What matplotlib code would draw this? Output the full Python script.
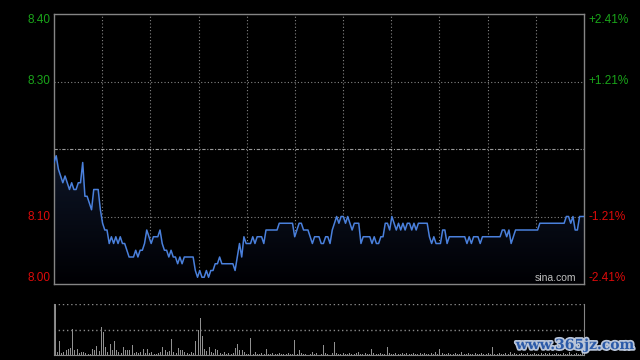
# Grafico intradia de precio y volumen (estilo sina)
import numpy as np
import matplotlib
matplotlib.use('Agg')
import matplotlib.pyplot as plt
import matplotlib.patheffects as pe
from matplotlib.colors import LinearSegmentedColormap

# Precio por minuto (241 puntos)
precios = [
    8.18, 8.19, 8.17, 8.16, 8.15, 8.16, 8.15, 8.14, 8.15, 8.14,
    8.14, 8.15, 8.15, 8.18, 8.13, 8.13, 8.12, 8.11, 8.14, 8.14,
    8.14, 8.11, 8.09, 8.08, 8.08, 8.06, 8.07, 8.06, 8.07, 8.06,
    8.07, 8.06, 8.06, 8.05, 8.04, 8.04, 8.04, 8.05, 8.04, 8.05,
    8.05, 8.06, 8.08, 8.07, 8.06, 8.07, 8.07, 8.07, 8.08, 8.06,
    8.05, 8.05, 8.04, 8.05, 8.04, 8.04, 8.03, 8.04, 8.03, 8.04,
    8.04, 8.04, 8.04, 8.04, 8.02, 8.01, 8.02, 8.01, 8.01, 8.02,
    8.01, 8.02, 8.02, 8.03, 8.03, 8.04, 8.03, 8.03, 8.03, 8.03,
    8.03, 8.03, 8.02, 8.04, 8.06, 8.04, 8.07, 8.06, 8.06, 8.06,
    8.07, 8.06, 8.07, 8.07, 8.07, 8.06, 8.08, 8.08, 8.08, 8.08,
    8.08, 8.08, 8.09, 8.09, 8.09, 8.09, 8.09, 8.09, 8.09, 8.07,
    8.08, 8.09, 8.09, 8.08, 8.08, 8.08, 8.07, 8.06, 8.07, 8.07,
    8.07, 8.06, 8.06, 8.07, 8.07, 8.06, 8.08, 8.09, 8.10, 8.09,
    8.10, 8.10, 8.09, 8.10, 8.09, 8.08, 8.09, 8.09, 8.09, 8.06,
    8.07, 8.07, 8.07, 8.07, 8.06, 8.07, 8.06, 8.06, 8.07, 8.07,
    8.09, 8.09, 8.08, 8.10, 8.09, 8.08, 8.09, 8.08, 8.09, 8.08,
    8.09, 8.09, 8.08, 8.09, 8.08, 8.09, 8.09, 8.09, 8.09, 8.09,
    8.07, 8.06, 8.07, 8.06, 8.06, 8.06, 8.08, 8.08, 8.06, 8.07,
    8.07, 8.07, 8.07, 8.07, 8.07, 8.07, 8.07, 8.06, 8.07, 8.06,
    8.07, 8.07, 8.07, 8.06, 8.07, 8.07, 8.07, 8.07, 8.07, 8.07,
    8.07, 8.07, 8.07, 8.08, 8.08, 8.07, 8.08, 8.06, 8.07, 8.08,
    8.08, 8.08, 8.08, 8.08, 8.08, 8.08, 8.08, 8.08, 8.08, 8.08,
    8.09, 8.09, 8.09, 8.09, 8.09, 8.09, 8.09, 8.09, 8.09, 8.09,
    8.09, 8.09, 8.10, 8.10, 8.09, 8.10, 8.08, 8.08, 8.10, 8.10,
    8.10,
]

# Volumen por minuto (la linea de 2.0 es el tope del panel)
volumen = [
    3.0, 0.1, 0.53, 0.08, 0.1, 0.2, 0.22, 0.29, 1.03, 0.2,
    0.24, 0.08, 0.1, 0.1, 0.06, 0.05, 0.05, 0.24, 0.2, 0.36,
    0.17, 1.08, 0.91, 0.33, 0.13, 0.43, 0.2, 0.55, 0.2, 0.12,
    0.08, 0.33, 0.2, 0.2, 0.2, 0.39, 0.08, 0.1, 0.06, 0.1,
    0.22, 0.06, 0.25, 0.08, 0.12, 0.05, 0.04, 0.06, 0.12, 0.33,
    0.2, 0.13, 0.16, 0.63, 0.12, 0.06, 0.28, 0.2, 0.2, 0.12,
    0.08, 0.05, 0.12, 0.06, 0.55, 0.99, 1.47, 0.75, 0.24, 0.17,
    0.33, 0.12, 0.06, 0.22, 0.2, 0.08, 0.05, 0.12, 0.04, 0.07,
    0.05, 0.06, 0.28, 0.43, 0.2, 0.2, 0.12, 0.05, 0.04, 0.68,
    0.05, 0.12, 0.04, 0.05, 0.06, 0.04, 0.24, 0.05, 0.04, 0.06,
    0.05, 0.04, 0.06, 0.05, 0.04, 0.05, 0.06, 0.04, 0.05, 0.59,
    0.05, 0.2, 0.06, 0.04, 0.05, 0.06, 0.04, 0.1, 0.05, 0.06,
    0.05, 0.04, 0.39, 0.06, 0.05, 0.06, 0.08, 0.5, 0.06, 0.05,
    0.04, 0.06, 0.05, 0.04, 0.06, 0.05, 0.04, 0.06, 0.12, 0.05,
    0.04, 0.06, 0.05, 0.04, 0.22, 0.06, 0.05, 0.04, 0.06, 0.05,
    0.04, 0.3, 0.06, 0.05, 0.04, 0.06, 0.05, 0.04, 0.06, 0.05,
    0.06, 0.04, 0.05, 0.08, 0.04, 0.05, 0.06, 0.04, 0.08, 0.05,
    0.04, 0.06, 0.05, 0.1, 0.04, 0.22, 0.06, 0.05, 0.04, 0.06,
    0.05, 0.04, 0.06, 0.05, 0.04, 0.12, 0.05, 0.04, 0.06, 0.05,
    0.04, 0.06, 0.05, 0.04, 0.06, 0.05, 0.04, 0.06, 0.05, 0.3,
    0.05, 0.04, 0.06, 0.05, 0.04, 0.06, 0.05, 0.12, 0.04, 0.06,
    0.05, 0.04, 0.06, 0.05, 0.04, 0.06, 0.05, 0.04, 0.06, 0.05,
    0.04, 0.06, 0.05, 0.08, 0.04, 0.06, 0.05, 0.04, 0.06, 0.05,
    0.04, 0.06, 0.05, 0.04, 0.1, 0.05, 0.04, 0.06, 0.05, 0.04,
    0.08,
]

cierre_anterior = 8.20
valores_eje = [8.40, 8.30, 8.10, 8.00]
etiquetas_izq = ['8.40', '8.30', '8.10', '8.00']
etiquetas_der = ['+2.41%', '+1.21%', '-1.21%', '-2.41%']

verde = '#1aa51a'
rojo = '#dd0a0a'
gris = '#858585'
azul = '#4a80dc'
fuente = 'Liberation Sans'

fig = plt.figure(figsize=(6.4, 3.6), dpi=100, facecolor='black')

# Panel de precio
ax = fig.add_axes([54/640, 76/360, 530/640, 270/360])
ax.set_facecolor('black')
x = np.arange(len(precios))
ax.set_xticks([])
ax.set_yticks([])
for s in ax.spines.values():
    s.set_color(gris)
    s.set_linewidth(1)

# Rejilla punteada
for xv in np.linspace(0, len(precios) - 1, 12)[1:-1]:
    ax.axvline(xv, color=gris, lw=0.8, ls=(0, (1, 2)), zorder=1)
for yv in [8.10, 8.30]:
    ax.axhline(yv, color=gris, lw=0.8, ls=(0, (1, 2)), zorder=1)
ax.axhline(cierre_anterior, color='#9a9a9a', lw=0.8, ls=(0, (3, 1.5, 1, 1.5)), zorder=1)

# Relleno degradado bajo la linea
relleno = ax.fill_between(x, precios, 8.0, color='none', lw=0)
cmap = LinearSegmentedColormap.from_list('fondo', ['#000003', '#0e1628'])
grad = np.linspace(0, 1, 100).reshape(-1, 1)
img = ax.imshow(grad, cmap=cmap, aspect='auto', origin='lower',
                extent=[0, len(precios) - 1, 8.0, max(precios)], zorder=2)
img.set_clip_path(relleno.get_paths()[0], transform=ax.transData)
ax.set_xlim(0, len(precios) - 1)
ax.set_ylim(8.0, 8.4)

ax.plot(x, precios, color=azul, lw=1.1, zorder=3)

# Etiquetas de los ejes
tr = ax.get_yaxis_transform()
for v, ti, td in zip(valores_eje, etiquetas_izq, etiquetas_der):
    color = verde if v > cierre_anterior else rojo
    va = 'center'
    if v == 8.40:
        va = 'top'
    if v == 8.00:
        va = 'bottom'
    ax.text(-0.006, v, ti, transform=tr, ha='right', va=va, color=color,
            fontsize=8.5, family=fuente)
    ax.text(1.009, v, td, transform=tr, ha='left', va=va, color=color,
            fontsize=8.5, family=fuente)

ax.text(0.985, 0.005, 'sina.com', transform=ax.transAxes, ha='right', va='bottom',
        color='#c0c0c0', fontsize=7.5, family=fuente, zorder=4)

# Panel de volumen
ax2 = fig.add_axes([54/640, 5/360, 530/640, 51/360])
ax2.set_facecolor('black')
ax2.bar(x, volumen, width=0.45, color='#909090', lw=0)
ax2.set_xlim(-0.5, len(precios) - 0.5)
ax2.set_ylim(0, 2)
ax2.set_xticks([])
ax2.set_yticks([])
ax2.spines['top'].set_visible(False)
for k in ['left', 'right', 'bottom']:
    ax2.spines[k].set_color(gris)
ax2.axhline(2, color='#8a8a8a', lw=1, ls=(0, (1, 2)))
ax2.axhline(1, color='#8a8a8a', lw=1, ls=(0, (1, 2)))

# Marca de agua
fig.text(575/640, 1 - 345/360, 'www.365jz.com', ha='center', va='center',
         color='#2b5aa8', fontsize=10, fontweight='bold', family='DejaVu Serif',
         path_effects=[pe.withStroke(linewidth=2.5, foreground='#b8c4d8')])

plt.savefig('out.png', dpi=100, facecolor='black')
